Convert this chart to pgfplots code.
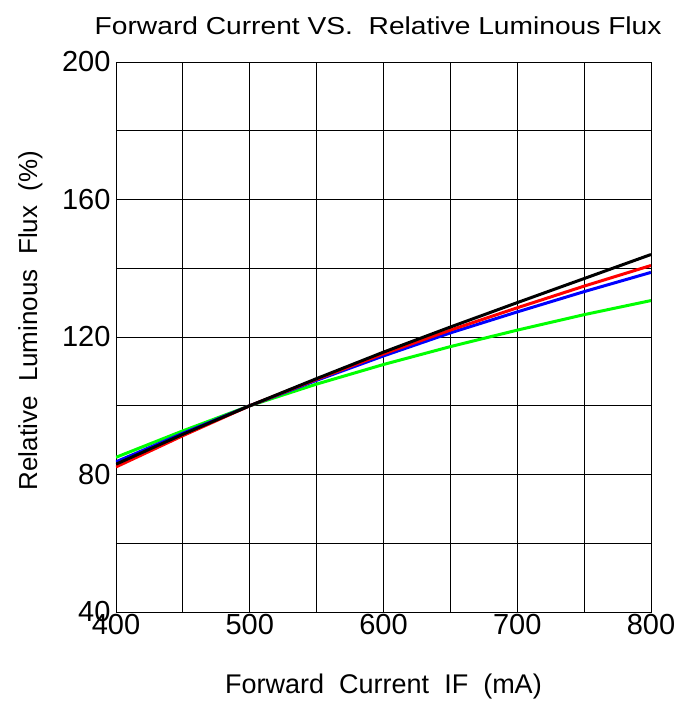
\documentclass[border=0pt]{standalone}
\usepackage{fontspec}
\setmainfont{Liberation Sans}
\usepackage{pgfplots}
\pgfplotsset{compat=1.18}

\begin{document}
\begin{tikzpicture}[x=1pt,y=1pt]
\useasboundingbox (0,-90) rectangle (689,612);
\begin{axis}[
  at={(116pt,0pt)},
  width=535pt, height=550pt,
  scale only axis,
  xmin=400, xmax=800, ymin=40, ymax=200,
  xtick={400,500,...,800},
  minor xtick={450,550,650,750},
  ytick={40,80,...,200},
  minor ytick={60,100,140,180},
  grid=both,
  major grid style={black, line width=0.9pt},
  minor grid style={black, line width=0.9pt},
  axis line style={black, line width=0.9pt},
  tick style={draw=none},
  ticklabel style={font=\fontsize{29}{32}\selectfont},
  /pgf/number format/assume math mode=true,
  xticklabel style={yshift=1pt},
  yticklabel style={xshift=-2pt},
  title={\scalebox{1.15}[1]{Forward Current VS.~~Relative Luminous Flux}},
  title style={font=\fontsize{24.5}{28}\selectfont, at={(0.49,1)}, anchor=south, yshift=18pt},
  xlabel={Forward~~Current~~IF~~(mA)},
  ylabel={Relative~~Luminous~~Flux~~(\%)},
  xlabel style={font=\fontsize{27}{30}\selectfont, at={(axis description cs:0.5,0)}, anchor=center, yshift=-75pt},
  ylabel style={font=\fontsize{26}{30}\selectfont, at={(axis description cs:-0.16,0.53)}, anchor=center},
  every axis plot/.append style={line width=3pt, no markers},
]
\addplot[green] coordinates {(400,85.0) (450,92.7) (500,100) (550,106.3) (600,112.0) (650,117.2) (700,122.0) (750,126.5) (800,130.6)};
\addplot[blue] coordinates {(400,83.7) (450,92.0) (500,100) (550,107.4) (600,114.5) (650,121.2) (700,127.3) (750,133.2) (800,138.8)};
\addplot[red] coordinates {(400,82.2) (450,91.3) (500,100) (550,107.7) (600,115.1) (650,122.0) (700,128.5) (750,134.8) (800,140.8)};
\addplot[black] coordinates {(400,83.0) (450,91.7) (500,100) (550,107.9) (600,115.6) (650,122.9) (700,130.0) (750,137.0) (800,144.0)};
\end{axis}
\end{tikzpicture}
\end{document}
